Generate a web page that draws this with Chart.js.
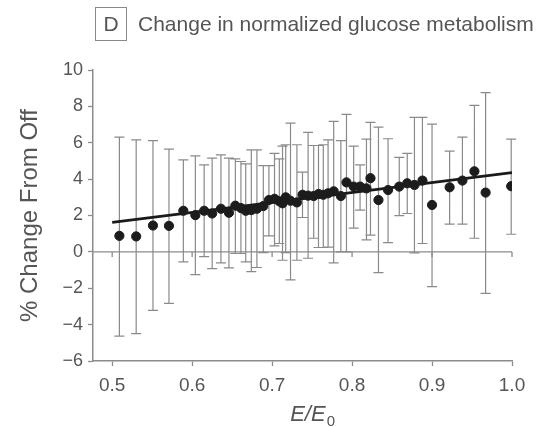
<!DOCTYPE html>
<html>
<head>
<meta charset="utf-8">
<script src="https://cdn.jsdelivr.net/npm/chart.js@4.4.1/dist/chart.umd.min.js"></script>
<style>
  html, body { margin: 0; padding: 0; background: #fff; }
  #wrap { width: 559px; height: 427px; position: relative; }
</style>
</head>
<body>
<div id="wrap"><canvas id="c" width="559" height="427"></canvas></div>
<script>
// Relative stimulation energy E/E0 for each measurement
const energyRatio = [0.509, 0.530, 0.551, 0.571, 0.589, 0.604, 0.615, 0.625, 0.636, 0.646,
  0.654, 0.661, 0.667, 0.674, 0.681, 0.689, 0.696, 0.703, 0.709, 0.713,
  0.717, 0.723, 0.731, 0.738, 0.745, 0.752, 0.758, 0.764, 0.770, 0.777,
  0.786, 0.793, 0.802, 0.810, 0.818, 0.823, 0.833, 0.845, 0.859, 0.869,
  0.878, 0.888, 0.900, 0.922, 0.938, 0.953, 0.967, 0.999];

// Mean % change from Off
const meanChange = [0.88, 0.85, 1.45, 1.43, 2.26, 2.02, 2.26, 2.11, 2.37, 2.15,
  2.54, 2.41, 2.26, 2.30, 2.37, 2.52, 2.85, 2.92, 2.78, 2.67,
  3.00, 2.81, 2.72, 3.14, 3.09, 3.07, 3.18, 3.14, 3.22, 3.33,
  3.07, 3.82, 3.59, 3.59, 3.49, 4.05, 2.85, 3.40, 3.59, 3.77,
  3.68, 3.92, 2.58, 3.55, 3.92, 4.43, 3.26, 3.61];

// Upper and lower ends of the error bars
const upperBound = [6.31, 6.16, 6.12, 5.65, 5.06, 5.28, 4.78, 5.15, 5.33, 5.15,
  5.11, 4.97, 4.84, 5.61, 5.61, 4.74, 4.74, 5.42, 5.11, 5.81,
  5.89, 7.08, 5.89, 4.38, 6.57, 5.85, 5.85, 5.89, 6.16, 7.17,
  6.12, 7.56, 5.81, 4.78, 6.20, 7.12, 6.86, 6.22, 5.20, 5.42,
  7.39, 7.39, 7.02, 5.54, 6.31, 8.06, 8.76, 6.20];
const lowerBound = [-4.63, -4.50, -3.22, -2.83, -0.55, -1.25, -0.26, -0.92, -0.61, -0.88,
  -0.09, -0.09, -0.55, -1.09, -0.86, -0.04, 0.88, 0.33, 0.46, -0.46,
  -0.04, -1.54, -0.46, 1.89, -0.35, 0.75, 0.24, 0.24, 0.26, -0.61,
  0.00, 0.00, 1.31, 2.30, 0.66, 0.92, -1.14, 0.51, 1.99, 2.11,
  -0.06, 0.46, -1.91, 1.53, 1.53, 0.75, -2.28, 0.97];

// Linear fit end points
const fitX = [0.5, 1.0];
const fitY = [1.62, 4.36];

// Axis tick values
const xTicks = [0.5, 0.6, 0.7, 0.8, 0.9, 1.0];
const yTicks = [-6, -4, -2, 0, 2, 4, 6, 8, 10];

const FONT = "'Liberation Sans', Arial, Helvetica, sans-serif";
const TEXT = '#555555';
const AXIS = '#8c8c8c';

const pointData = energyRatio.map((x, i) => ({ x: x, y: meanChange[i] }));
const fitData = fitX.map((x, i) => ({ x: x, y: fitY[i] }));

// Zero reference line with small tick marks, plus error bars
const errorBars = {
  id: 'errorBars',
  beforeDatasetsDraw(chart) {
    const { ctx, scales: { x, y } } = chart;
    ctx.save();
    // zero line
    const y0 = y.getPixelForValue(0);
    ctx.strokeStyle = AXIS;
    ctx.lineWidth = 1.3;
    ctx.beginPath();
    ctx.moveTo(chart.chartArea.left, y0);
    ctx.lineTo(x.getPixelForValue(1.0), y0);
    xTicks.forEach(v => {
      const px = x.getPixelForValue(v);
      ctx.moveTo(px, y0);
      ctx.lineTo(px, y0 + 5);
    });
    ctx.stroke();
    // error bars
    ctx.strokeStyle = '#8a8a8a';
    ctx.lineWidth = 1.2;
    ctx.beginPath();
    energyRatio.forEach((v, i) => {
      const px = x.getPixelForValue(v);
      const top = y.getPixelForValue(upperBound[i]);
      const bot = y.getPixelForValue(lowerBound[i]);
      ctx.moveTo(px, top);
      ctx.lineTo(px, bot);
      ctx.moveTo(px - 5, top);
      ctx.lineTo(px + 5, top);
      ctx.moveTo(px - 5, bot);
      ctx.lineTo(px + 5, bot);
    });
    ctx.stroke();
    ctx.restore();
  }
};

// Panel heading and the x-axis label with subscript
const labels = {
  id: 'labels',
  afterDraw(chart) {
    const { ctx, scales: { x } } = chart;
    ctx.save();
    ctx.strokeStyle = '#8a8a8a';
    ctx.lineWidth = 1;
    ctx.strokeRect(95.5, 7.5, 31, 33);
    ctx.fillStyle = TEXT;
    ctx.font = '21px ' + FONT;
    ctx.textBaseline = 'middle';
    ctx.textAlign = 'center';
    ctx.fillText('D', 111, 25);
    ctx.textAlign = 'left';
    ctx.fillText('Change in normalized glucose metabolism', 138, 25);

    // E/E0
    ctx.textBaseline = 'alphabetic';
    ctx.font = 'italic 22px ' + FONT;
    const main = 'E/E';
    const wMain = ctx.measureText(main).width;
    ctx.font = '15px ' + FONT;
    const wSub = ctx.measureText('0').width;
    const cx = x.getPixelForValue(0.75);
    const startX = cx - (wMain + wSub) / 2;
    ctx.font = 'italic 22px ' + FONT;
    ctx.fillText(main, startX, 421);
    ctx.font = '15px ' + FONT;
    ctx.fillText('0', startX + wMain + 1, 426);
    ctx.restore();
  }
};

new Chart(document.getElementById('c'), {
  type: 'scatter',
  data: {
    datasets: [
      {
        data: pointData,
        backgroundColor: '#1c1c1c',
        borderColor: '#1c1c1c',
        pointRadius: 4.6,
        pointHoverRadius: 4.6,
        order: 0
      },
      {
        data: fitData,
        showLine: true,
        borderColor: '#1a1a1a',
        borderWidth: 2.6,
        pointRadius: 0,
        order: 1
      }
    ]
  },
  options: {
    responsive: false,
    animation: false,
    layout: { padding: { top: 70, right: 47, left: 0, bottom: 0 } },
    plugins: {
      legend: { display: false },
      tooltip: { enabled: false }
    },
    scales: {
      x: {
        type: 'linear',
        min: 0.476,
        max: 1.0,
        afterBuildTicks: s => { s.ticks = xTicks.map(v => ({ value: v })); },
        afterFit: s => { s.height = 66; },
        border: { display: true, color: AXIS, width: 1.5 },
        grid: { drawOnChartArea: false, drawTicks: true, tickLength: 5, tickColor: AXIS, tickWidth: 1.3 },
        ticks: {
          color: TEXT,
          font: { family: FONT, size: 19 },
          padding: 8,
          maxRotation: 0,
          callback: v => Number(v).toFixed(1)
        }
      },
      y: {
        type: 'linear',
        min: -6,
        max: 10,
        afterBuildTicks: s => { s.ticks = yTicks.map(v => ({ value: v })); },
        afterFit: s => { s.width = 93; },
        border: { display: true, color: AXIS, width: 1.5 },
        grid: { drawOnChartArea: false, drawTicks: true, tickLength: 5, tickColor: AXIS, tickWidth: 1.3 },
        ticks: {
          color: TEXT,
          font: { family: FONT, size: 18 },
          padding: 5,
          callback: v => (v < 0 ? '\u2212' + Math.abs(v) : String(v))
        },
        title: {
          display: true,
          text: '% Change From Off',
          color: TEXT,
          font: { family: FONT, size: 24 },
          padding: { top: 16, bottom: 0 }
        }
      }
    }
  },
  plugins: [errorBars, labels]
});
</script>
</body>
</html>
